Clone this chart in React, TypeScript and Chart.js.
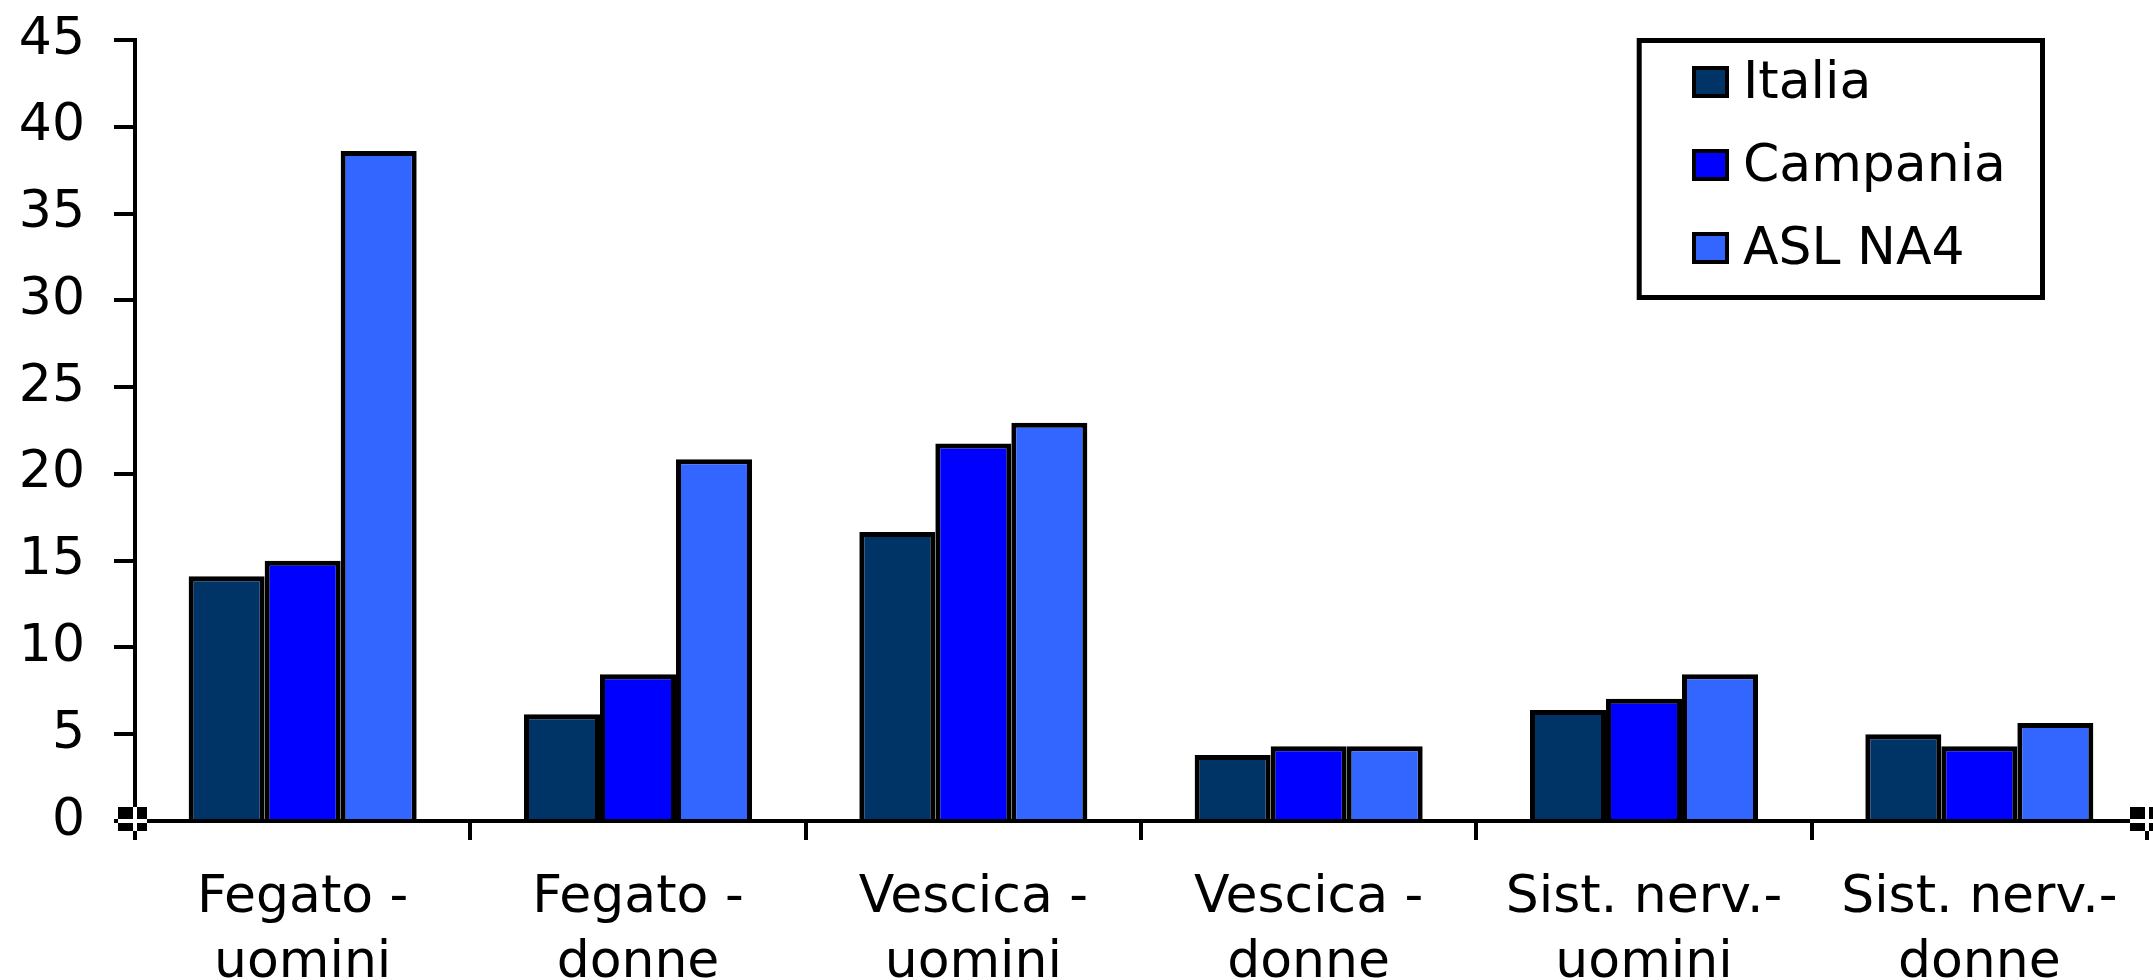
import React, { useEffect, useRef } from "react";
import { Chart, registerables } from "chart.js";

Chart.register(...registerables);

const CATEGORIES: string[][] = [
  ["Fegato -", "uomini"],
  ["Fegato -", "donne"],
  ["Vescica -", "uomini"],
  ["Vescica -", "donne"],
  ["Sist. nerv.-", "uomini"],
  ["Sist. nerv.-", "donne"],
];

const SERIES_NAMES = ["Italia", "Campania", "ASL NA4"];
const SERIES_COLORS = ["#003366", "#0000FF", "#3366FF"];

const ITALIA = [14.1, 6.15, 16.65, 3.8, 6.4, 5.0];
const CAMPANIA = [15.0, 8.45, 21.75, 4.3, 7.05, 4.3];
const ASL_NA4 = [38.6, 20.85, 22.95, 4.3, 8.45, 5.65];

const Y_MIN = 0;
const Y_MAX = 45;
const Y_STEP = 5;

const FONT = "DejaVu Sans";
const FONT_SIZE = 52;

const legendBoxPlugin = {
  id: "legendBoxPlugin",
  afterDraw(chart: any) {
    const ctx = chart.ctx;
    ctx.save();
    // legend frame
    ctx.strokeStyle = "#000";
    ctx.lineWidth = 5;
    ctx.strokeRect(1639.2, 40.5, 403.3, 257);
    ctx.font = `${FONT_SIZE}px "${FONT}"`;
    ctx.textBaseline = "alphabetic";
    ctx.textAlign = "left";
    chart.data.datasets.forEach((ds: any, i: number) => {
      const top = 66 + i * 83;
      ctx.fillStyle = "#000";
      ctx.fillRect(1692, top, 37, 32);
      ctx.fillStyle = ds.backgroundColor;
      ctx.fillRect(1696, top + 4, 29, 24);
      ctx.fillStyle = "#000";
      ctx.fillText(ds.label, 1743, top + 32);
    });
    // axis selection handles at both ends of the category axis
    const area = chart.chartArea;
    const py = area.bottom;
    [area.left, area.right].forEach((px: number) => {
      ctx.fillStyle = "#000";
      ctx.fillRect(px - 17, py - 14, 29, 24);
      ctx.fillStyle = "#fff";
      ctx.fillRect(px - 2, py - 14, 4, 24);
      ctx.fillRect(px - 17, py - 2, 29, 4);
      ctx.fillStyle = "#000";
      ctx.fillRect(px - 2, py + 10, 4, 9);
    });
    ctx.restore();
  },
};

export default function App() {
  const canvasRef = useRef<HTMLCanvasElement | null>(null);

  useEffect(() => {
    document.body.style.margin = "0";
    const canvas = canvasRef.current;
    if (!canvas) return;
    const seriesValues = [ITALIA, CAMPANIA, ASL_NA4];
    const chart = new Chart(canvas, {
      type: "bar",
      data: {
        labels: CATEGORIES,
        datasets: SERIES_NAMES.map((name, i) => ({
          label: name,
          data: seriesValues[i],
          backgroundColor: SERIES_COLORS[i],
          borderColor: "#000",
          borderWidth: { top: 5, left: 5, right: 5, bottom: 0 },
          borderSkipped: false,
          categoryPercentage: 0.68,
          barPercentage: 1,
        })),
      },
      options: {
        responsive: false,
        animation: false,
        devicePixelRatio: 1,
        layout: { padding: { top: 40, right: 6, left: 0, bottom: 0 } },
        plugins: {
          legend: { display: false },
          tooltip: { enabled: false },
        },
        scales: {
          x: {
            grid: {
              drawOnChartArea: false,
              offset: true,
              tickLength: 19,
              lineWidth: 4,
              color: "#000",
            },
            border: { display: true, color: "#000", width: 4 },
            ticks: {
              color: "#000",
              font: { family: FONT, size: FONT_SIZE, lineHeight: 1.25 },
              padding: 26,
              maxRotation: 0,
              minRotation: 0,
              autoSkip: false,
            },
            afterFit: (s: any) => {
              s.height = 159;
            },
          },
          y: {
            min: Y_MIN,
            max: Y_MAX,
            grid: {
              drawOnChartArea: false,
              tickLength: 21,
              lineWidth: 4,
              color: "#000",
            },
            border: { display: true, color: "#000", width: 4 },
            ticks: {
              stepSize: Y_STEP,
              color: "#000",
              font: { family: FONT, size: FONT_SIZE, lineHeight: 0.2 },
              padding: 29,
            },
            afterFit: (s: any) => {
              s.width = 135;
            },
          },
        },
      },
      plugins: [legendBoxPlugin],
    });
    return () => chart.destroy();
  }, []);

  return (
    <div style={{ position: "fixed", left: 0, top: 0, width: 2153, height: 980, background: "#fff" }}>
      <canvas ref={canvasRef} width={2153} height={980} style={{ display: "block" }} />
    </div>
  );
}
